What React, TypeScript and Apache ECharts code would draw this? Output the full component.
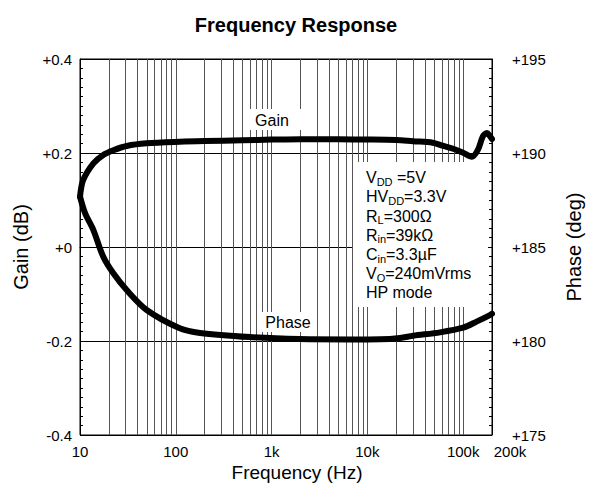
import React, { useEffect, useRef } from "react";
import * as echarts from "echarts";

const gainFreq = [10, 10.8, 13.8, 17.5, 22.3, 30.7, 49.7, 110, 200, 500, 1000, 2000, 5000, 10000, 20000, 30000, 48000, 61000, 80000, 100000, 123000, 142000, 161000, 177000, 190000, 200000];
const gainDb = [0.107, 0.1426, 0.178, 0.196, 0.206, 0.215, 0.2206, 0.224, 0.2255, 0.227, 0.2285, 0.229, 0.229, 0.2288, 0.2278, 0.225, 0.222, 0.2155, 0.2085, 0.2006, 0.192, 0.206, 0.236, 0.2426, 0.236, 0.2298];

const phaseFreq = [10, 11.3, 13.8, 17.5, 22.3, 30.7, 49.7, 110, 179, 596, 1978, 6600, 13600, 21900, 30100, 57300, 100000, 138000, 190000, 200000];
const phaseDeg = [187.68, 186.8, 185.9, 184.48, 183.6, 182.71, 181.65, 180.68, 180.43, 180.21, 180.1, 180.08, 180.09, 180.16, 180.28, 180.46, 180.71, 181.03, 181.38, 181.45];

const minorGridFreq = [20, 30, 40, 50, 60, 70, 80, 90, 100, 200, 300, 400, 500, 600, 700, 800, 900, 1000, 2000, 3000, 4000, 5000, 6000, 7000, 8000, 9000, 10000, 20000, 30000, 40000, 50000, 60000, 70000, 80000, 90000, 100000];

const xTickLabels: Record<number, string> = { 10: "10", 100: "100", 1000: "1k", 10000: "10k", 100000: "100k" };
const xMaxLabel = "200k";

const FONT = "'Liberation Sans', Arial, Helvetica, sans-serif";

export default function App() {
  const ref = useRef<HTMLDivElement>(null);
  useEffect(() => {
    document.body.style.margin = "0";
    const chart = echarts.init(ref.current!, null, { renderer: "svg" });
    const toPairs = (xs: number[], ys: number[]) => xs.map((x, i) => [x, ys[i]]);
    chart.setOption({
      animation: false,
      backgroundColor: "#fff",
      textStyle: { fontFamily: FONT, color: "#000" },
      title: {
        text: "Frequency Response",
        left: "center",
        top: 10,
        textStyle: { fontFamily: FONT, fontSize: 20, fontWeight: "bold", color: "#000" },
      },
      grid: { left: 80, right: 100, top: 59, bottom: 56, show: true, borderColor: "#000", borderWidth: 1, backgroundColor: "transparent" },
      xAxis: {
        type: "log",
        logBase: 10,
        min: 10,
        max: 200000,
        axisLine: { show: true, lineStyle: { color: "#000" } },
        axisTick: { show: false },
        splitLine: { show: false },
        axisLabel: {
          fontSize: 15,
          lineHeight: 15,
          color: "#000",
          fontFamily: FONT,
          margin: 9,
          showMinLabel: true,
          showMaxLabel: false,
          hideOverlap: false,
          formatter: (v: number) => xTickLabels[Math.round(v)] ?? "",
        },
      },
      yAxis: [
        {
          type: "value",
          min: -0.4,
          max: 0.4,
          interval: 0.2,
          axisLine: { show: true, lineStyle: { color: "#000" } },
          axisTick: { show: true, inside: true, length: 4, lineStyle: { color: "#000" } },
          minorTick: { show: true, splitNumber: 10, length: 3, lineStyle: { color: "#000" } },
          splitLine: { show: true, lineStyle: { color: "#000", width: 1 } },
          axisLabel: {
            fontSize: 15,
            lineHeight: 13,
            color: "#000",
            fontFamily: FONT,
            margin: 8,
            formatter: (v: number) => {
              const r = Math.round(v * 10) / 10;
              if (r === 0) return "+0";
              return r > 0 ? "+" + r.toFixed(1) : r.toFixed(1);
            },
          },
        },
        {
          type: "value",
          min: 175,
          max: 195,
          interval: 5,
          position: "right",
          axisLine: { show: true, lineStyle: { color: "#000" } },
          axisTick: { show: true, inside: true, length: 4, lineStyle: { color: "#000" } },
          minorTick: { show: true, splitNumber: 10, length: 3, lineStyle: { color: "#000" } },
          splitLine: { show: false },
          axisLabel: {
            fontSize: 15,
            lineHeight: 13,
            color: "#000",
            fontFamily: FONT,
            margin: 20,
            formatter: (v: number) => "+" + v,
          },
        },
      ],
      series: [
        {
          type: "line",
          name: "grid",
          data: [],
          z: 1,
          silent: true,
          markLine: {
            silent: true,
            symbol: "none",
            label: { show: false },
            lineStyle: { color: "#555", width: 1, type: "solid" },
            data: minorGridFreq.map((f) => ({ xAxis: f })),
          },
        },
        {
          type: "line",
          name: "Gain",
          data: toPairs(gainFreq, gainDb),
          yAxisIndex: 0,
          showSymbol: false,
          smooth: 0.3,
          z: 5,
          lineStyle: { color: "#000", width: 6, cap: "round", join: "round" },
        },
        {
          type: "line",
          name: "Phase",
          data: toPairs(phaseFreq, phaseDeg),
          yAxisIndex: 1,
          showSymbol: false,
          smooth: 0.3,
          z: 5,
          lineStyle: { color: "#000", width: 6, cap: "round", join: "round" },
        },
      ],
      graphic: [
        { type: "rect", z: 100, shape: { x: 353, y: 162, width: 135, height: 145 }, style: { fill: "#fff" } },
        { type: "rect", z: 100, shape: { x: 246, y: 109, width: 58, height: 21 }, style: { fill: "#fff" } },
        { type: "rect", z: 100, shape: { x: 260, y: 312, width: 56, height: 20 }, style: { fill: "#fff" } },
        {
          type: "text",
          z: 101,
          x: 272,
          y: 120,
          style: { text: "Gain", fontSize: 16, fontFamily: FONT, fill: "#000", align: "center", verticalAlign: "middle" },
        },
        {
          type: "text",
          z: 101,
          x: 288,
          y: 322,
          style: { text: "Phase", fontSize: 16, fontFamily: FONT, fill: "#000", align: "center", verticalAlign: "middle" },
        },
        {
          type: "text",
          z: 101,
          x: 510,
          y: 451.5,
          style: { text: xMaxLabel, fontSize: 15, fontFamily: FONT, fill: "#000", align: "center", verticalAlign: "middle" },
        },
        {
          type: "text",
          z: 101,
          x: 21,
          y: 247,
          rotation: Math.PI / 2,
          style: { text: "Gain (dB)", fontSize: 20, fontFamily: FONT, fill: "#000", align: "center", verticalAlign: "middle" },
        },
        {
          type: "text",
          z: 101,
          x: 574,
          y: 247,
          rotation: Math.PI / 2,
          style: { text: "Phase (deg)", fontSize: 20, fontFamily: FONT, fill: "#000", align: "center", verticalAlign: "middle" },
        },
        {
          type: "text",
          z: 101,
          x: 297,
          y: 472,
          style: { text: "Frequency (Hz)", fontSize: 19, fontFamily: FONT, fill: "#000", align: "center", verticalAlign: "middle" },
        },
        {
          type: "text",
          z: 101,
          x: 366,
          y: 168,
          style: {
            text: [
              "{n|V}{s|DD}{n| =5V}",
              "{n|HV}{s|DD}{n|=3.3V}",
              "{n|R}{s|L}{n|=300Ω}",
              "{n|R}{s|in}{n|=39kΩ}",
              "{n|C}{s|in}{n|=3.3µF}",
              "{n|V}{s|O}{n|=240mVrms}",
              "{n|HP mode}",
            ].join("\n"),
            fontFamily: FONT,
            fill: "#000",
            rich: {
              n: { fontSize: 16, lineHeight: 19.2, fontFamily: FONT, fill: "#000", verticalAlign: "middle" },
              s: { fontSize: 11, lineHeight: 10, fontFamily: FONT, fill: "#000", verticalAlign: "bottom" },
            },
          },
        },
      ],
    });
    return () => chart.dispose();
  }, []);
  return <div ref={ref} style={{ width: 592, height: 491 }} />;
}
